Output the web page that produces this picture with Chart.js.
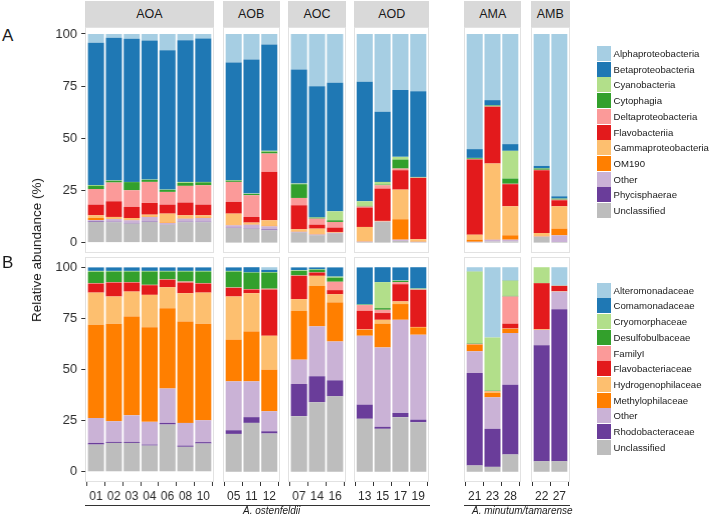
<!DOCTYPE html>
<html><head><meta charset="utf-8">
<script src="https://cdn.jsdelivr.net/npm/chart.js@4.4.1/dist/chart.umd.min.js"></script>
<style>
body{margin:0;background:#fff;width:709px;height:516px;position:relative;overflow:hidden;font-family:"Liberation Sans",Arial,Helvetica,sans-serif;color:#1a1a1a;}
.panel{position:absolute;box-sizing:border-box;border:1px solid #e2e2e2;background:#fff;}
.strip{position:absolute;background:#d9d9d9;color:#1a1a1a;font-size:12.5px;display:flex;align-items:center;justify-content:center;}
.wrap{position:absolute;}
.t{position:absolute;white-space:nowrap;}
.key{position:absolute;width:14px;height:15px;}
.lt{position:absolute;font-size:9.6px;line-height:15px;white-space:nowrap;color:#1a1a1a;}
</style></head><body>
<script>
// ---------- data ----------
const panels = ['AOA','AOB','AOC','AOD','AMA','AMB'];
const panelSizes = [7,3,3,4,3,2];
const samples = ['01','02','03','04','06','08','10','05','11','12','07','14','16','13','15','17','19','21','23','28','22','27'];
const yTicks = [0,25,50,75,100];
const groupLabels = ['A. ostenfeldii','A. minutum/tamarense'];

const classNames = ['Alphaproteobacteria','Betaproteobacteria','Cyanobacteria','Cytophagia','Deltaproteobacteria','Flavobacteriia','Gammaproteobacteria','OM190','Other','Phycisphaerae','Unclassified'];
const familyNames = ['Alteromonadaceae','Comamonadaceae','Cryomorphaceae','Desulfobulbaceae','FamilyI','Flavobacteriaceae','Hydrogenophilaceae','Methylophilaceae','Other','Rhodobacteraceae','Unclassified'];
const palette = ['#a6cee3','#1f78b4','#b2df8a','#33a02c','#fb9a99','#e31a1c','#fdbf6f','#ff7f00','#cab2d6','#6a3d9a','#bdbdbd'];

// Row A (class level), bars in sample order
const alphaproteobacteria = [4.2,1.8,2.3,3.1,7.8,3.0,2.2,13.7,12.2,5.0,17.0,25.0,23.4,22.9,37.3,26.9,27.4,55.2,31.7,52.8,63.2,77.8];
const betaproteobacteria  = [68.2,68.4,68.6,66.7,66.8,67.9,68.7,56.4,64.3,51.0,54.7,62.9,61.6,57.3,33.6,32.0,41.1,4.2,2.5,3.2,1.2,1.1];
const cyanobacteria       = [0.3,0.2,0.1,0.1,0.1,0.5,0.2,0.2,0.2,0.4,0.3,0.1,4.3,2.2,1.3,1.3,0.1,0.2,0.1,13.3,0.1,0.1];
const cytophagia          = [1.6,0.8,3.9,1.0,1.0,1.4,1.4,0.6,0.6,0.9,6.6,0.5,0.8,0.3,0.3,4.3,0.2,0.4,0.4,2.5,0.6,0.4];
const deltaproteobacteria = [7.5,9.0,8.0,10.1,6.1,8.0,9.3,9.6,10.4,8.8,3.5,2.9,2.7,0.5,1.6,0.8,0.2,0.2,0.2,0.2,0.2,0.3];
const flavobacteriia      = [5.1,7.5,5.3,5.6,4.3,6.1,5.1,5.6,2.7,23.2,11.5,1.9,2.1,9.3,15.5,9.3,29.4,36.0,27.2,10.6,30.1,2.9];
const gammaproteobacteria = [1.3,1.0,0.9,0.9,4.3,1.4,1.1,5.4,0.8,2.6,1.0,2.5,0.3,6.8,0.2,14.2,1.0,2.4,36.3,13.9,1.5,10.7];
const om190               = [1.0,0,0.2,0.2,0.2,0.2,0.2,0.2,0.2,0.3,0.2,0.3,0.1,0.2,0.1,9.8,0.2,1.0,0.2,2.1,0.2,3.2];
const otherA              = [0.6,1.3,1.4,2.2,0.7,1.5,1.8,1.2,1.7,1.5,0.3,0.3,0.3,0.2,0.2,0.6,0.2,0.2,0.9,0.9,0.2,3.2];
const phycisphaerae       = [0.3,0.2,0.2,0.2,0.1,0.2,0.2,0.1,0.2,0.4,0.1,0.1,0.1,0,0,0,0,0,0,0,0,0];
const unclassifiedA       = [9.9,9.8,9.1,9.9,8.6,9.8,9.8,7.0,6.7,5.9,4.8,3.5,4.3,0.3,9.9,0.8,0.2,0.2,0.5,0.5,2.7,0.3];

// Row B (family level)
const alteromonadaceae   = [0.1,0.1,0.1,0.1,0.1,0.1,0.1,0.1,0,1.3,0.1,0.1,0.1,0.1,0,0.1,0,2.0,34.3,6.3,0,9.0];
const comamonadaceae     = [1.7,1.7,1.7,1.7,1.7,1.7,1.7,1.7,2.5,1.1,1.4,0.9,4.5,18.1,7.3,6.4,10.4,0.1,0,0.2,0,0];
const cryomorphaceae     = [0.4,0.3,0.3,0.3,0.3,0.3,0.3,0.3,0.1,0.2,0.3,0.2,0.5,0.1,12.7,0.2,0.2,35.2,26.0,7.5,7.7,0.1];
const desulfobulbaceae   = [5.6,5.2,5.2,6.5,3.8,4.9,5.7,7.8,8.1,7.9,2.2,1.3,2.0,0.2,0.8,0.6,0.2,0.2,0.2,0.3,0.1,0];
const familyI            = [0.2,0.2,0.2,0.2,0.2,0.5,0.2,0.2,0.2,0.4,0.2,0.1,4.1,2.8,1.6,1.0,0.3,0,0,13.3,0,0];
const flavobacteriaceae  = [4.4,6.8,4.4,4.7,3.7,5.2,4.4,4.2,1.8,22.6,11.4,1.6,2.0,9.1,3.3,8.4,18.1,0.2,0.2,2.4,22.4,2.6];
const hydrogenophilaceae = [15.7,13.3,12.2,15.8,10.2,13.8,15.2,21.1,18.7,16.6,5.7,4.9,4.0,0.2,1.9,1.3,0.2,0.2,0.8,0.2,0.2,0.1];
const methylophilaceae   = [45.6,47.7,48.3,46.3,39.3,49.6,47.2,20.4,24.4,20.3,23.9,19.8,19.1,2.9,11.6,7.7,3.6,3.2,2.1,2.0,0.2,0.1];
const otherB             = [12.2,10.1,13.0,11.1,16.8,11.1,10.7,23.9,17.5,9.8,11.9,24.4,19.0,33.7,38.8,45.5,41.5,10.6,15.4,25.2,7.6,8.6];
const rhodobacteraceae   = [0.8,0.5,0.5,0.5,0.8,0.6,0.7,1.8,2.8,1.1,15.7,12.7,7.8,6.9,1.0,2.1,1.3,45.2,18.6,34.1,56.6,74.3];
const unclassifiedB      = [13.3,14.1,14.1,12.8,23.1,12.2,13.8,18.5,23.9,18.7,27.2,34.0,36.9,25.9,21.0,26.7,24.2,3.1,2.4,8.5,5.2,5.2];

const rowAValues = [alphaproteobacteria,betaproteobacteria,cyanobacteria,cytophagia,deltaproteobacteria,flavobacteriia,gammaproteobacteria,om190,otherA,phycisphaerae,unclassifiedA];
const rowBValues = [alteromonadaceae,comamonadaceae,cryomorphaceae,desulfobulbaceae,familyI,flavobacteriaceae,hydrogenophilaceae,methylophilaceae,otherB,rhodobacteraceae,unclassifiedB];

// ---------- layout ----------
const FONT = '"Liberation Sans", Arial, Helvetica, sans-serif';
const U = 17.9;
const panelLefts = [85, 222.5, 288.3, 354.1, 464.2, 530.5];
const rows = [
  {names: classNames, values: rowAValues, top: 26.5, bottom: 252.7, min: -4.98, max: 103.35, xAxis: false},
  {names: familyNames, values: rowBValues, top: 256.5, bottom: 482, min: -5, max: 105, xAxis: true}
];
const P = 14, YW = 40, XH = 26;

function el(cls, css, text){
  const d = document.createElement('div');
  if (cls) d.className = cls;
  Object.assign(d.style, css);
  if (text !== undefined) d.textContent = text;
  document.body.appendChild(d);
  return d;
}

// panels and strips
rows.forEach((row, r) => {
  panels.forEach((p, i) => {
    const w = (panelSizes[i] + 0.2) * U;
    el('panel', {left: panelLefts[i]+'px', top: row.top+'px', width: w+'px', height: (row.bottom-row.top)+'px'});
    if (r === 0) {
      el('strip', {left: panelLefts[i]+'px', top: '1px', width: w+'px', height: '25.5px'}, p);
    }
  });
});

// charts
rows.forEach((row, r) => {
  let start = 0;
  panels.forEach((p, i) => {
    const n = panelSizes[i];
    const labels = samples.slice(start, start + n);
    const w = (n + 0.2) * U;
    const hasY = i === 0;
    const hasX = row.xAxis;
    const left = panelLefts[i] - P - (hasY ? YW : 0);
    const top = row.top - P;
    const W = w + 2*P + (hasY ? YW : 0);
    const H = (row.bottom - row.top) + 2*P + (hasX ? XH : 0);
    const wrap = el('wrap', {left: left+'px', top: top+'px', width: W+'px', height: H+'px'});
    const cv = document.createElement('canvas');
    cv.width = W; cv.height = H;
    cv.style.width = W+'px'; cv.style.height = H+'px';
    wrap.appendChild(cv);
    const s0 = start;
    const datasets = row.names.map((name, k) => ({
      label: name,
      backgroundColor: palette[k],
      borderWidth: 0,
      barPercentage: 0.9,
      categoryPercentage: 1,
      data: row.values[k].slice(s0, s0 + n).map((v, j) => ({x: j, y: v}))
    })).reverse();
    new Chart(cv, {
      type: 'bar',
      data: {datasets},
      options: {
        responsive: false, animation: false,
        layout: {padding: {top: P, bottom: P, left: P, right: P}},
        plugins: {legend: {display: false}, tooltip: {enabled: false}},
        scales: {
          x: {
            type: 'linear', stacked: true, min: -0.6, max: n - 0.4, offset: false,
            display: hasX,
            afterBuildTicks: sc => { sc.ticks = labels.map((_, j) => ({value: j})); },
            afterFit: sc => { sc.height = hasX ? XH : 0; },
            grid: {drawOnChartArea: false, drawTicks: true, tickLength: 4, color: '#333', lineWidth: 1},
            border: {display: false},
            ticks: {autoSkip: false, maxRotation: 0, padding: 3, color: '#2b2b2b',
              font: {size: 12, family: FONT},
              callback: v => (labels[v] !== undefined ? labels[v] : '')}
          },
          y: {
            type: 'linear', stacked: true, min: row.min, max: row.max,
            display: hasY,
            afterBuildTicks: sc => { sc.ticks = yTicks.map(v => ({value: v})); },
            afterFit: sc => { sc.width = hasY ? YW : 0; },
            grid: {drawOnChartArea: false, drawTicks: true, tickLength: 4, color: '#333', lineWidth: 1},
            border: {display: false},
            ticks: {padding: 4, color: '#2b2b2b', font: {size: 13, family: FONT}}
          }
        }
      }
    });
    start += n;
  });
});

// panel letters and axis title
el('t', {left: '2px', top: '27px', fontSize: '17px', lineHeight: '17px'}, 'A');
el('t', {left: '2px', top: '254px', fontSize: '17px', lineHeight: '17px'}, 'B');
el('t', {left: '37px', top: '250px', fontSize: '13.5px', lineHeight: '16px', transform: 'translate(-50%,-50%) rotate(-90deg)'}, 'Relative abundance (%)');

// species group lines
el('t', {left: '85px', top: '505px', width: '345px', height: '0', borderTop: '1px solid #333'});
el('t', {left: '464px', top: '505px', width: '106px', height: '0', borderTop: '1px solid #333'});
el('t', {left: '243px', top: '505px', fontSize: '10px', lineHeight: '12px', fontStyle: 'italic'}, groupLabels[0]);
el('t', {left: '472px', top: '505px', fontSize: '10px', lineHeight: '12px', fontStyle: 'italic'}, groupLabels[1]);

// legends
function legend(names, top){
  names.forEach((name, k) => {
    el('key', {left: '597px', top: (top + k*15.7)+'px', background: palette[k]});
    el('lt', {left: '613.5px', top: (top + k*15.7)+'px'}, name);
  });
}
legend(classNames, 46);
legend(familyNames, 282.7);
</script>
</body></html>
